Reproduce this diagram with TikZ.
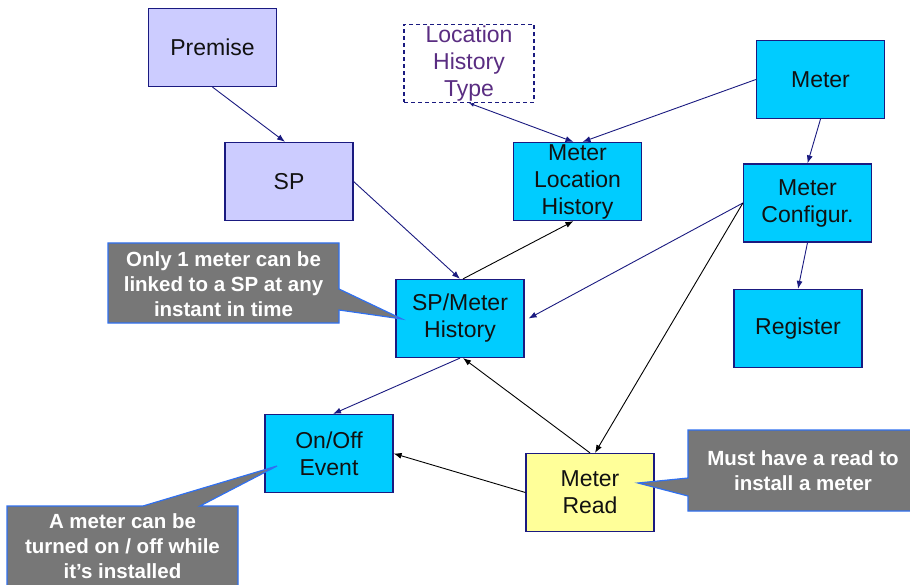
\documentclass[tikz,border=0pt]{standalone}
\usepackage{fontspec}
\setmainfont{Liberation Sans}
\usepackage{xcolor}
\usepackage{tikz}
\usetikzlibrary{arrows.meta, positioning}

\definecolor{boxcyan}{HTML}{00CCFF}
\definecolor{boxline}{HTML}{1A1A80}
\definecolor{boxtext}{HTML}{111111}
\definecolor{siteblue}{HTML}{CCCCFF}
\definecolor{readyellow}{HTML}{FFFF99}
\definecolor{lhtext}{HTML}{5A2D82}
\definecolor{notegray}{HTML}{777777}
\definecolor{noteline}{HTML}{3070F0}

\begin{document}
\begin{tikzpicture}[x=1pt, y=-1pt, >={Latex[length=8pt,width=6pt]},
        box/.style={rectangle, draw=boxline, line width=1.2pt, fill=boxcyan, minimum width=128pt, minimum height=78pt, inner sep=0pt, align=center, text=boxtext, font=\fontsize{23}{27}\selectfont},
        site/.style={box, fill=siteblue},
        readbox/.style={box, fill=readyellow},
        typebox/.style={box, fill=white, dashed, dash pattern=on 4pt off 3pt, text=lhtext},
        note/.style={draw=noteline, line width=1.2pt, fill=notegray},
        notetext/.style={align=center, text=white, inner sep=0pt, font=\bfseries\fontsize{20.5}{25}\selectfont},
        link/.style={->, draw=boxline, line width=0.9pt},
        blink/.style={->, draw=black, line width=0.9pt}]

        \clip (0,0) rectangle (910,585);

        \node (premise) [site] at (212.5,47.5) {Premise};
        \node (sp) [site] at (289,181.5) {SP};
        \node (lht) [typebox, minimum width=130pt] at (469,63.5) {Location\\History\\Type};
        \node (mlh) [box] at (577.5,181.5) {Meter\\Location\\History};
        \node (meter) [box] at (820.5,79.5) {Meter};
        \node (config) [box] at (807.5,203) {Meter\\Configur.};
        \node (register) [box] at (798,328.5) {Register};
        \node (spmh) [box] at (460,318.5) {SP/Meter\\History};
        \node (onoff) [box] at (329,453.5) {On/Off\\Event};
        \node (mread) [readbox] at (590,492.5) {Meter\\Read};

        \draw[link] (premise.south) -- ([xshift=-4pt]sp.north);
        \draw[link] (sp.east) -- (spmh.north);
        \draw[blink] ([xshift=3pt]spmh.north) -- ([xshift=-4pt]mlh.south);
        \draw[link, {Latex[length=5pt,width=4pt]}->] (lht.south) -- ([xshift=-4pt]mlh.north);
        \draw[link] (meter.west) -- ([xshift=5pt]mlh.north);
        \draw[link] (meter.south) -- (config.north);
        \draw[link] (config.south) -- (register.north);
        \draw[link] (config.west) -- ([xshift=4pt]spmh.east);
        \draw[blink] (config.west) -- ([xshift=5pt]mread.north);
        \draw[blink] (mread.north) -- ([xshift=3pt]spmh.south);
        \draw[blink] (mread.west) -- (onoff.east);
        \draw[link] (spmh.south) -- ([xshift=4pt]onoff.north);

        \draw[note] (108,243) -- (339,243) -- (339,289) -- (402,319) -- (339,310) -- (339,323) -- (108,323) -- cycle;
        \node (note1) [notetext] at (223.5,284) {Only 1 meter can be\\linked to a SP at any\\instant in time};

        \draw[note] (7,506) -- (143,506) -- (277,466) -- (200,506) -- (238,506) -- (238,592) -- (7,592) -- cycle;
        \node (note2) [notetext] at (122.5,546) {A meter can be\\turned on / off while\\it's installed};

        \draw[note] (688,430) -- (920,430) -- (920,511) -- (688,511) -- (688,496) -- (638,483) -- (688,478) -- cycle;
        \node (note3) [notetext] at (803,470.5) {Must have a read to\\install a meter};
    \end{tikzpicture}
\end{document}
